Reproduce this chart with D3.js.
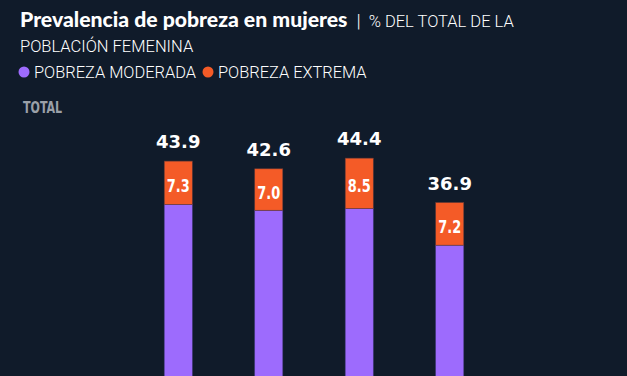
<!DOCTYPE html>
<html>
<head>
<meta charset="utf-8">
<script src="https://cdn.jsdelivr.net/npm/d3@7"></script>
<style>
  html, body { margin: 0; padding: 0; background: #101b2a; }
  svg { display: block; }
</style>
</head>
<body>
<div id="chart"></div>
<script>
// data
const years = ["2016", "2018", "2020", "2022"];
const moderada = [36.6, 35.6, 35.9, 29.7];
const extrema = [7.3, 7.0, 8.5, 7.2];
const totals = [43.9, 42.6, 44.4, 36.9];

const width = 627;
const height = 376;
const purple = "#9d6bfd";
const orange = "#f45b27";
const narrow = "'DejaVu Sans Condensed', 'DejaVu Sans', sans-serif";

const svg = d3.select("#chart")
  .append("svg")
    .attr("width", width)
    .attr("height", height);

svg.append("rect")
  .attr("width", width)
  .attr("height", height)
  .attr("fill", "#101b2a");

// title block
const title = svg.append("text")
  .attr("x", 20)
  .attr("y", 27)
  .attr("fill", "#ffffff");
title.append("tspan")
  .text("Prevalencia de pobreza en mujeres")
  .style("font-family", "Lato")
  .style("font-weight", 900)
  .style("font-size", "21.2px");
title.append("tspan")
  .attr("dx", 9)
  .text("|")
  .style("font-family", "Roboto")
  .style("font-weight", 300)
  .style("font-size", "19px");
title.append("tspan")
  .attr("dx", 8)
  .text("% DEL TOTAL DE LA")
  .style("font-family", "Roboto")
  .style("font-weight", 300)
  .style("font-size", "16.5px");

svg.append("text")
  .attr("x", 20)
  .attr("y", 52)
  .attr("fill", "#ffffff")
  .style("font-family", "Roboto")
  .style("font-weight", 300)
  .style("font-size", "16.5px")
  .text("POBLACIÓN FEMENINA");

// legend
const legendItems = [
  { label: "POBREZA MODERADA", color: purple, x: 24 },
  { label: "POBREZA EXTREMA", color: orange, x: 208 }
];
const legend = svg.append("g");
legendItems.forEach((d) => {
  legend.append("circle")
    .attr("cx", d.x)
    .attr("cy", 72)
    .attr("r", 5.5)
    .attr("fill", d.color);
  legend.append("text")
    .attr("x", d.x + 10)
    .attr("y", 78)
    .attr("fill", "#ffffff")
    .style("font-family", "Roboto")
    .style("font-weight", 300)
    .style("font-size", "16.4px")
    .text(d.label);
});

svg.append("text")
  .attr("transform", "translate(23,113) scale(0.82,1)")
  .attr("fill", "#9aa0a8")
  .style("font-family", narrow)
  .style("font-weight", 700)
  .style("font-size", "15px")
  .text("TOTAL");

// scales
const x = d3.scaleBand()
  .domain(years)
  .range([119, 509])
  .paddingInner(0.69)
  .paddingOuter(0.5);

const y = d3.scaleLinear()
  .domain([0, 50])
  .range([421, 125]);

const rows = years.map((yr, i) => ({
  year: yr,
  moderada: moderada[i],
  extrema: extrema[i],
  total: totals[i]
}));

const bars = svg.append("g");

// purple (moderate) segment
bars.selectAll("rect.mod")
  .data(rows)
  .join("rect")
    .attr("class", "mod")
    .attr("x", (d) => x(d.year))
    .attr("y", (d) => y(d.moderada))
    .attr("width", x.bandwidth())
    .attr("height", (d) => y(0) - y(d.moderada))
    .attr("fill", purple)
    .attr("stroke", "#4b3f86")
    .attr("stroke-width", 0.6);

// orange (extreme) segment
bars.selectAll("rect.ext")
  .data(rows)
  .join("rect")
    .attr("class", "ext")
    .attr("x", (d) => x(d.year))
    .attr("y", (d) => y(d.moderada + d.extrema))
    .attr("width", x.bandwidth())
    .attr("height", (d) => y(d.moderada) - y(d.moderada + d.extrema))
    .attr("fill", orange)
    .attr("stroke", "#6a3a36")
    .attr("stroke-width", 0.6);

// value inside orange segment
bars.selectAll("text.ext")
  .data(rows)
  .join("text")
    .attr("class", "ext")
    .attr("transform", (d) => {
      const cx = x(d.year) + x.bandwidth() / 2;
      const cy = (y(d.moderada) + y(d.moderada + d.extrema)) / 2 + 9;
      return `translate(${cx},${cy}) scale(0.8,1)`;
    })
    .attr("text-anchor", "middle")
    .attr("fill", "#ffffff")
    .style("font-family", narrow)
    .style("font-weight", 700)
    .style("font-size", "18px")
    .text((d) => d3.format(".1f")(d.extrema));

// total above bar
bars.selectAll("text.total")
  .data(rows)
  .join("text")
    .attr("class", "total")
    .attr("x", (d) => x(d.year) + x.bandwidth() / 2)
    .attr("y", (d) => y(d.total) - 13)
    .attr("text-anchor", "middle")
    .attr("fill", "#ffffff")
    .style("font-family", "'DejaVu Sans', sans-serif")
    .style("font-weight", 700)
    .style("font-size", "18px")
    .text((d) => d3.format(".1f")(d.total));
</script>
</body>
</html>
